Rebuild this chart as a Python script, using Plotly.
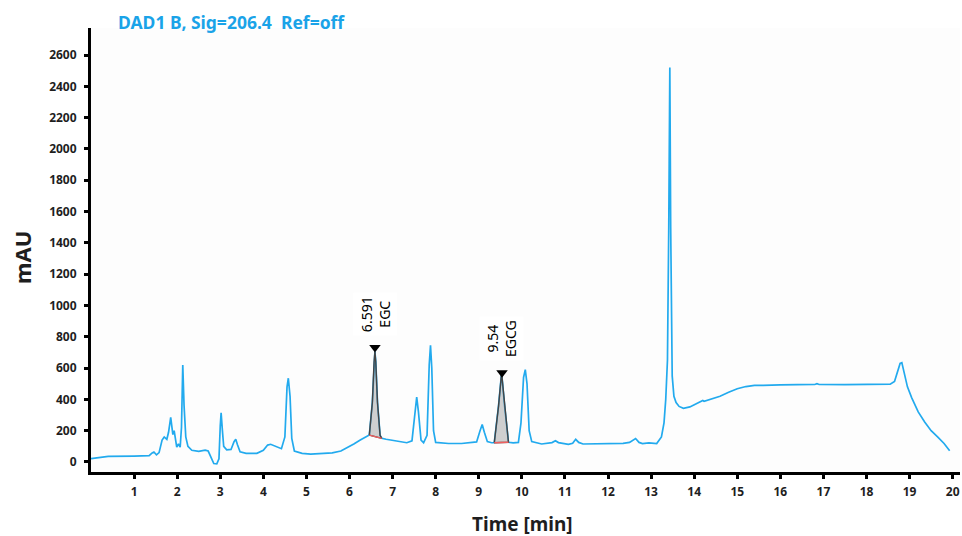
import numpy as np
import plotly.graph_objects as go

# Chromatogram (time in min, absorbance in mAU)
time_min = [
    0.00, 0.30, 0.40, 1.00, 1.35, 1.42, 1.46, 1.52, 1.58, 1.65, 1.70, 1.76, 1.80, 1.85, 1.88,
    1.90, 1.93, 1.96, 1.99, 2.03, 2.07, 2.10, 2.13, 2.16, 2.20, 2.25, 2.34, 2.50, 2.65, 2.72,
    2.78, 2.85, 2.92, 2.97, 3.00, 3.02, 3.05, 3.08, 3.15, 3.25, 3.32, 3.36, 3.40, 3.46, 3.60,
    3.85, 4.00, 4.10, 4.17, 4.30, 4.42, 4.50, 4.55, 4.58, 4.62, 4.66, 4.72, 4.90, 5.10, 5.40,
    5.60, 5.80, 5.95, 6.10, 6.25, 6.40, 6.46, 6.53, 6.57, 6.59, 6.61, 6.65, 6.71, 6.75, 6.85,
    6.95, 7.10, 7.33, 7.45, 7.52, 7.56, 7.60, 7.66, 7.72, 7.80, 7.85, 7.88, 7.91, 7.95, 8.00,
    8.30, 8.60, 8.95, 9.03, 9.08, 9.13, 9.20, 9.30, 9.36, 9.46, 9.53, 9.60, 9.69, 9.80, 9.92,
    9.98, 10.04, 10.08, 10.12, 10.17, 10.23, 10.46, 10.70, 10.78, 10.85, 11.08, 11.18, 11.25, 11.32, 11.42,
    11.80, 12.35, 12.50, 12.64, 12.72, 12.80, 12.95, 13.05, 13.13, 13.24, 13.30, 13.34, 13.38, 13.41, 13.435,
    13.455, 13.47, 13.49, 13.53, 13.58, 13.65, 13.75, 13.90, 14.00, 14.15, 14.20, 14.23, 14.40, 14.60, 14.80,
    15.00, 15.20, 15.40, 15.60, 15.80, 16.00, 16.40, 16.80, 16.85, 16.90, 17.50, 18.20, 18.30, 18.40, 18.55,
    18.65, 18.72, 18.78, 18.82, 18.88, 18.95, 19.05, 19.20, 19.35, 19.50, 19.65, 19.80, 19.93,
]
signal_mau = [
    22, 32, 36, 38, 40, 58, 64, 46, 60, 140, 160, 145, 190, 285, 200,
    175, 200, 130, 95, 115, 95, 220, 620, 360, 160, 100, 75, 68, 76, 70,
    30, -10, -12, 20, 230, 315, 200, 100, 78, 80, 130, 145, 110, 65, 55,
    55, 75, 108, 113, 100, 85, 160, 480, 535, 420, 150, 70, 55, 50, 55,
    58, 70, 90, 115, 140, 165, 172, 380, 640, 705, 640, 380, 170, 151, 145,
    140, 130, 123, 135, 320, 415, 320, 140, 123, 170, 620, 745, 600, 200, 125,
    118, 118, 128, 200, 240, 190, 130, 123, 123, 360, 570, 360, 126, 122, 125,
    250, 540, 590, 500, 200, 130, 115, 124, 136, 124, 113, 120, 145, 125, 115,
    117, 119, 125, 150, 125, 118, 122, 120, 118, 160, 250, 400, 650, 1500, 2520,
    1500, 800, 550, 420, 380, 355, 343, 352, 365, 383, 393, 388, 402, 420, 445,
    468, 482, 490, 490, 493, 493, 494, 495, 500, 495, 494, 495, 499, 495, 497,
    515, 570, 630, 635, 560, 480, 410, 320, 255, 200, 160, 118, 72,
]

# Integrated peaks
peak_names = ["EGC", "EGCG"]
peak_rt = [6.591, 9.54]
peak_start = [6.46, 9.36]
peak_end = [6.75, 9.69]

x_ticks = list(range(1, 21))
y_ticks = list(range(0, 2601, 200))

LINE = "#22AAEE"
TITLE = "#1AA3E8"
FONT = "Noto Sans"
INK = "#1E1E1E"

t = np.array(time_min)
s = np.array(signal_mau)

fig = go.Figure()
fig.add_trace(go.Scatter(x=t, y=s, mode="lines", line=dict(color=LINE, width=1.7),
                         hoverinfo="skip", showlegend=False))

for name, rt, a, b in zip(peak_names, peak_rt, peak_start, peak_end):
    m = (t >= a) & (t <= b)
    px, py = t[m], s[m]
    fig.add_trace(go.Scatter(x=list(px) + [px[0]], y=list(py) + [py[0]], mode="lines",
                             fill="toself", fillcolor="rgba(120,120,120,0.35)",
                             line=dict(color="#444444", width=1.4),
                             hoverinfo="skip", showlegend=False))
    fig.add_trace(go.Scatter(x=[px[0], px[-1]], y=[py[0], py[-1]], mode="lines",
                             line=dict(color="#F06060", width=1.4),
                             hoverinfo="skip", showlegend=False))
    top = float(np.interp(rt, t, s))
    fig.add_trace(go.Scatter(x=[rt], y=[top + 30], mode="markers",
                             marker=dict(symbol="triangle-down", size=10, color="black"),
                             hoverinfo="skip", showlegend=False))
    fig.add_annotation(x=rt, y=top, yshift=16, text=f"{rt}<br>{name}", textangle=-90,
                       showarrow=False, yanchor="bottom", xanchor="center",
                       bgcolor="white", borderpad=3,
                       font=dict(family=FONT, size=14, color="black"))

axis_common = dict(showline=True, linewidth=3, linecolor="black", showgrid=False, zeroline=False,
                   ticks="outside", ticklen=4, tickwidth=2.5, tickcolor="black", automargin=False,
                   tickfont=dict(family=FONT, size=12, color=INK, weight="bold"))

W, H = 962, 536
L, R, T, B = 91, 2, 28, 64

fig.update_layout(
    width=W, height=H,
    margin=dict(l=L, r=R, t=T, b=B),
    paper_bgcolor="white", plot_bgcolor="#FDFDFD",
    xaxis=dict(range=[0, 20.17], tickvals=x_ticks, ticklabelstandoff=3, **axis_common),
    yaxis=dict(range=[-64, 2773], tickvals=y_ticks, ticklabelstandoff=5, **axis_common),
    annotations=list(fig.layout.annotations) + [
        dict(text="DAD1 B, Sig=206.4  Ref=off", xref="paper", yref="paper", x=0, y=1,
             xshift=25, yshift=6, xanchor="left", yanchor="middle", showarrow=False,
             font=dict(family=FONT, size=17.5, color=TITLE, weight="bold")),
        dict(text="Time [min]", xref="paper", yref="paper", x=0.5, y=0, xshift=-3, yshift=-52,
             xanchor="center", yanchor="middle", showarrow=False,
             font=dict(family=FONT, size=19, color=INK, weight="bold")),
        dict(text="mAU", xref="paper", yref="paper", x=0, y=0.5, xshift=-69, yshift=-8,
             xanchor="center", yanchor="middle", textangle=-90, showarrow=False,
             font=dict(family=FONT, size=22, color=INK, weight="bold")),
    ],
)

# remove the browser's default page margin so the figure sits at the window's corner
fig.write_html("out.html", config={"displayModeBar": False},
               post_script="document.body.style.margin='0px';")
